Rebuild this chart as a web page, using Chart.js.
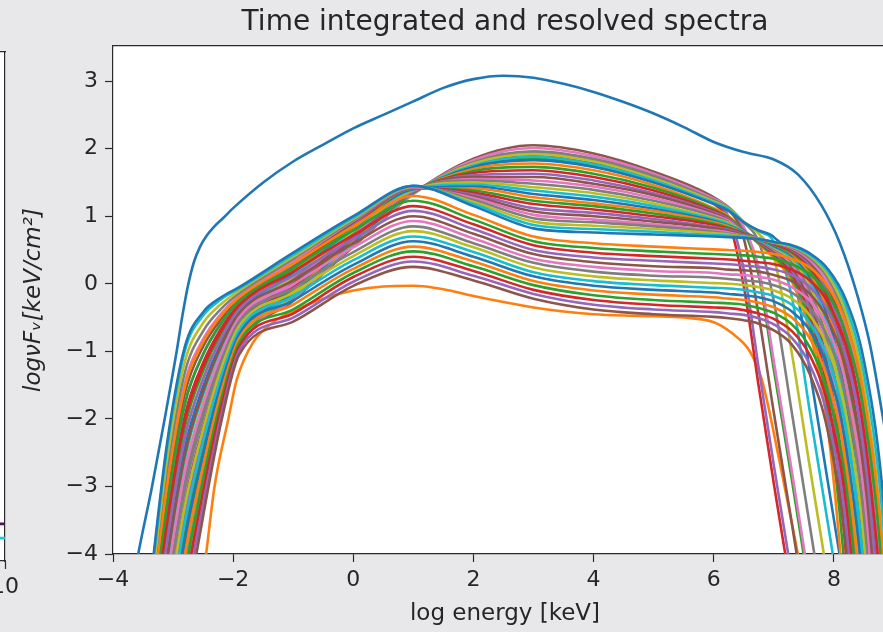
<!DOCTYPE html>
<html>
<head>
<meta charset="utf-8">
<script src="https://cdn.jsdelivr.net/npm/chart.js@4.4.0/dist/chart.umd.min.js"></script>
<style>
  html, body { margin: 0; padding: 0; background: #e8e8eb; overflow: hidden; }
  #wrap { position: relative; width: 883px; height: 632px; overflow: hidden; }
  #main { position: absolute; left: 0; top: 0; }
  #side { position: absolute; left: -400px; top: 0; }
</style>
</head>
<body>
<div id="wrap">
  <canvas id="main" width="920" height="632"></canvas>
  <canvas id="side" width="425" height="632"></canvas>
</div>
<script>
// tick positions
const xTicks = [-4, -2, 0, 2, 4, 6, 8];
const yTicks = [-4, -3, -2, -1, 0, 1, 2, 3];

// time integrated spectrum (log energy, log nuFnu)
const integratedEnergy = [-3.7, -3.58, -3.35, -3.14, -2.94, -2.85, -2.75, -2.65, -2.55, -2.45, -2.3, -2.17, -2.0, -1.5, -1.0, -0.5, 0, 0.5, 1, 1.5, 2, 2.5, 3, 3.5, 4, 4.5, 5, 5.5, 6, 6.5, 7, 7.4, 7.8, 8.1, 8.4, 8.6, 8.8, 9.0, 9.2];
const integratedFlux = [-4.6, -4.0, -3.0, -2.0, -1.0, -0.5, -0.02, 0.33, 0.55, 0.7, 0.86, 0.97, 1.12, 1.5, 1.81, 2.06, 2.3, 2.5, 2.7, 2.9, 3.03, 3.08, 3.05, 2.96, 2.84, 2.69, 2.52, 2.32, 2.1, 1.95, 1.84, 1.62, 1.15, 0.6, -0.2, -0.9, -1.9, -3.0, -4.4];

// first time bin (the faint one)
const firstBinEnergy = [-2.6, -2.45, -2.31, -2.08, -1.94, -1.67, -1.3, -1.0, -0.5, 0, 0.5, 1, 1.5, 2, 2.5, 3, 3.5, 4, 4.5, 5, 5.5, 6, 6.3, 6.6, 6.8, 7.1, 7.4, 7.6];
const firstBinFlux = [-5.0, -4.0, -3.0, -2.0, -1.42, -0.87, -0.55, -0.4, -0.22, -0.1, -0.04, -0.03, -0.08, -0.18, -0.27, -0.35, -0.41, -0.45, -0.47, -0.48, -0.5, -0.57, -0.73, -1.0, -1.42, -2.65, -4.0, -4.9];

// the other time bins, all on one energy grid
const energyGrid = [-3.4, -3.1, -2.8, -2.5, -2.2, -1.9, -1.0, 0, 1, 2, 3, 4, 5, 6, 6.25, 6.5, 6.75, 7.0, 7.3, 7.6, 7.9, 8.2, 8.5, 8.8, 9.1];
const resolvedFlux = [
  [-7.60, -5.77, -4.06, -2.74, -1.62, -0.82, -0.14, 0.62, 1.35, 1.74, 1.85, 1.74, 1.51, 1.19, 1.08, 0.79, 0.12, -1.27, -2.90, -4.59, -6.24, -9, -9, -9, -9],
  [-7.73, -5.92, -4.19, -2.84, -1.68, -0.85, -0.16, 0.61, 1.35, 1.76, 1.90, 1.78, 1.54, 1.18, 0.92, -0.04, -1.53, -2.96, -4.60, -6.28, -9, -9, -9, -9, -9],
  [-7.86, -6.07, -4.33, -2.94, -1.74, -0.89, -0.19, 0.59, 1.34, 1.79, 1.94, 1.82, 1.58, 1.21, 0.99, 0.21, -1.26, -2.69, -4.33, -6.01, -9, -9, -9, -9, -9],
  [-8.19, -6.45, -4.67, -3.20, -1.90, -0.97, -0.25, 0.55, 1.33, 1.85, 2.05, 1.93, 1.66, 1.28, 1.11, 0.67, -0.48, -1.91, -3.55, -5.24, -6.90, -9, -9, -9, -9],
  [-8.06, -6.30, -4.54, -3.10, -1.84, -0.94, -0.23, 0.57, 1.33, 1.83, 2.01, 1.89, 1.63, 1.26, 1.13, 0.84, 0.22, -1.15, -2.78, -4.47, -6.12, -9, -9, -9, -9],
  [-7.93, -6.15, -4.40, -3.00, -1.78, -0.90, -0.20, 0.58, 1.34, 1.80, 1.96, 1.85, 1.60, 1.24, 1.13, 0.91, 0.62, -0.26, -1.91, -3.59, -5.24, -6.90, -9, -9, -9],
  [-7.80, -6.01, -4.27, -2.90, -1.72, -0.87, -0.18, 0.60, 1.34, 1.78, 1.92, 1.81, 1.56, 1.22, 1.11, 0.92, 0.74, 0.39, -1.03, -2.72, -4.37, -6.02, -9, -9, -9],
  [-7.67, -5.86, -4.14, -2.80, -1.66, -0.84, -0.15, 0.61, 1.35, 1.75, 1.88, 1.77, 1.53, 1.20, 1.10, 0.91, 0.78, 0.62, -0.20, -1.90, -3.55, -5.20, -6.85, -9, -9],
  [-7.54, -5.71, -4.00, -2.70, -1.60, -0.81, -0.13, 0.63, 1.35, 1.73, 1.83, 1.73, 1.50, 1.18, 1.08, 0.91, 0.79, 0.69, 0.28, -1.29, -2.94, -4.59, -6.24, -9, -9],
  [-7.39, -5.54, -3.84, -2.58, -1.52, -0.77, -0.10, 0.65, 1.36, 1.70, 1.78, 1.68, 1.46, 1.12, 1.00, 0.78, 0.59, 0.38, 0.03, -0.72, -2.15, -5.00, -9, -9, -9],
  [-7.24, -5.36, -3.68, -2.46, -1.45, -0.73, -0.07, 0.67, 1.36, 1.67, 1.73, 1.63, 1.42, 1.10, 0.98, 0.79, 0.60, 0.41, 0.09, -0.59, -1.89, -4.47, -9, -9, -9],
  [-7.09, -5.19, -3.52, -2.35, -1.38, -0.69, -0.04, 0.69, 1.37, 1.64, 1.68, 1.58, 1.38, 1.08, 0.97, 0.78, 0.62, 0.44, 0.15, -0.47, -1.65, -4.00, -8.70, -9, -9],
  [-6.94, -5.02, -3.36, -2.23, -1.31, -0.65, -0.01, 0.70, 1.37, 1.61, 1.63, 1.53, 1.34, 1.06, 0.96, 0.78, 0.62, 0.46, 0.20, -0.36, -1.44, -3.57, -7.83, -9, -9],
  [-6.78, -4.85, -3.20, -2.11, -1.24, -0.61, 0.02, 0.72, 1.38, 1.58, 1.58, 1.48, 1.31, 1.04, 0.94, 0.78, 0.63, 0.48, 0.25, -0.27, -1.24, -3.18, -7.04, -9, -9],
  [-6.63, -4.67, -3.05, -1.99, -1.16, -0.57, 0.05, 0.74, 1.38, 1.55, 1.53, 1.44, 1.27, 1.02, 0.93, 0.77, 0.65, 0.51, 0.29, -0.18, -1.06, -2.82, -6.32, -9, -9],
  [-6.48, -4.50, -2.89, -1.88, -1.09, -0.53, 0.08, 0.76, 1.39, 1.53, 1.48, 1.39, 1.23, 1.00, 0.91, 0.77, 0.65, 0.52, 0.33, -0.10, -0.90, -2.49, -5.67, -9, -9],
  [-6.33, -4.33, -2.73, -1.76, -1.02, -0.49, 0.11, 0.78, 1.39, 1.50, 1.43, 1.34, 1.19, 0.97, 0.90, 0.77, 0.66, 0.54, 0.36, -0.03, -0.76, -2.21, -5.10, -9, -9],
  [-6.18, -4.16, -2.57, -1.64, -0.95, -0.46, 0.14, 0.80, 1.40, 1.47, 1.38, 1.29, 1.15, 0.95, 0.88, 0.77, 0.65, 0.55, 0.39, 0.04, -0.63, -1.94, -4.57, -9, -9],
  [-6.02, -3.98, -2.41, -1.52, -0.88, -0.42, 0.17, 0.82, 1.40, 1.44, 1.33, 1.24, 1.11, 0.93, 0.86, 0.76, 0.66, 0.56, 0.42, 0.10, -0.50, -1.70, -4.08, -8.85, -9],
  [-5.87, -3.81, -2.25, -1.41, -0.80, -0.38, 0.20, 0.83, 1.41, 1.41, 1.28, 1.19, 1.08, 0.91, 0.85, 0.75, 0.66, 0.58, 0.44, 0.15, -0.39, -1.48, -3.64, -8.00, -9],
  [-5.72, -3.64, -2.10, -1.29, -0.73, -0.34, 0.23, 0.85, 1.41, 1.38, 1.23, 1.15, 1.04, 0.89, 0.83, 0.75, 0.67, 0.58, 0.46, 0.20, -0.30, -1.28, -3.24, -7.19, -9],
  [-5.57, -3.47, -1.94, -1.17, -0.66, -0.30, 0.26, 0.87, 1.42, 1.35, 1.18, 1.10, 1.00, 0.87, 0.81, 0.74, 0.66, 0.59, 0.48, 0.24, -0.21, -1.11, -2.89, -6.47, -9],
  [-5.42, -3.29, -1.77, -1.05, -0.59, -0.26, 0.29, 0.89, 1.42, 1.32, 1.12, 1.05, 0.96, 0.84, 0.80, 0.73, 0.67, 0.60, 0.50, 0.28, -0.13, -0.94, -2.56, -5.81, -9],
  [-5.26, -3.12, -1.61, -0.93, -0.52, -0.22, 0.31, 0.91, 1.43, 1.29, 1.07, 1.00, 0.92, 0.82, 0.78, 0.72, 0.66, 0.60, 0.51, 0.32, -0.05, -0.79, -2.26, -5.21, -9],
  [-5.12, -2.95, -1.46, -0.82, -0.44, -0.18, 0.34, 0.93, 1.43, 1.27, 1.02, 0.95, 0.88, 0.79, 0.76, 0.71, 0.67, 0.61, 0.53, 0.35, 0.01, -0.65, -1.99, -4.67, -9],
  [-4.96, -2.77, -1.30, -0.70, -0.37, -0.14, 0.37, 0.94, 1.44, 1.24, 0.97, 0.91, 0.85, 0.77, 0.74, 0.71, 0.66, 0.61, 0.54, 0.38, 0.08, -0.53, -1.74, -4.17, -9],
  [-4.81, -2.60, -1.14, -0.58, -0.30, -0.10, 0.40, 0.96, 1.44, 1.21, 0.92, 0.86, 0.81, 0.75, 0.73, 0.70, 0.66, 0.61, 0.55, 0.41, 0.13, -0.43, -1.53, -3.74, -8.10],
  [-4.66, -2.43, -0.98, -0.47, -0.23, -0.07, 0.43, 0.98, 1.45, 1.18, 0.87, 0.81, 0.77, 0.72, 0.71, 0.69, 0.66, 0.62, 0.56, 0.43, 0.18, -0.33, -1.33, -3.33, -7.32],
  [-4.60, -2.36, -0.92, -0.42, -0.20, -0.05, 0.46, 1.00, 1.45, 1.15, 0.82, 0.76, 0.73, 0.70, 0.69, 0.68, 0.66, 0.62, 0.57, 0.45, 0.22, -0.24, -1.14, -2.97, -6.62],
  [-5.17, -3.00, -1.51, -0.86, -0.47, -0.20, 0.30, 0.85, 1.30, 1.02, 0.70, 0.60, 0.55, 0.51, 0.50, 0.49, 0.47, 0.44, 0.37, 0.24, -0.04, -0.58, -1.67, -3.83, -8.15],
  [-5.40, -3.28, -1.76, -1.04, -0.58, -0.26, 0.24, 0.79, 1.23, 0.95, 0.63, 0.53, 0.48, 0.44, 0.43, 0.42, 0.40, 0.37, 0.29, 0.14, -0.15, -0.74, -1.92, -4.27, -9],
  [-5.65, -3.55, -2.01, -1.23, -0.70, -0.32, 0.18, 0.72, 1.15, 0.88, 0.57, 0.46, 0.41, 0.37, 0.36, 0.34, 0.32, 0.29, 0.21, 0.05, -0.27, -0.92, -2.19, -4.75, -9],
  [-5.88, -3.82, -2.26, -1.41, -0.81, -0.38, 0.12, 0.66, 1.08, 0.81, 0.50, 0.39, 0.34, 0.30, 0.29, 0.27, 0.25, 0.21, 0.13, -0.05, -0.40, -1.09, -2.48, -5.25, -9],
  [-6.13, -4.10, -2.52, -1.60, -0.92, -0.44, 0.05, 0.60, 1.00, 0.74, 0.44, 0.32, 0.26, 0.23, 0.21, 0.20, 0.18, 0.13, 0.04, -0.15, -0.53, -1.28, -2.79, -5.80, -9],
  [-6.36, -4.37, -2.76, -1.79, -1.04, -0.50, -0.01, 0.54, 0.93, 0.67, 0.37, 0.25, 0.19, 0.16, 0.14, 0.13, 0.10, 0.06, -0.05, -0.25, -0.66, -1.48, -3.12, -6.38, -9],
  [-6.61, -4.64, -3.02, -1.97, -1.15, -0.56, -0.07, 0.47, 0.85, 0.60, 0.31, 0.18, 0.12, 0.09, 0.07, 0.05, 0.03, -0.02, -0.13, -0.36, -0.80, -1.69, -3.47, -7.01, -9],
  [-6.84, -4.91, -3.27, -2.16, -1.26, -0.63, -0.13, 0.41, 0.78, 0.54, 0.24, 0.11, 0.05, 0.01, 0.00, -0.02, -0.05, -0.10, -0.22, -0.47, -0.95, -1.92, -3.85, -7.70, -9],
  [-7.08, -5.18, -3.52, -2.34, -1.38, -0.69, -0.19, 0.35, 0.70, 0.47, 0.17, 0.04, -0.02, -0.06, -0.07, -0.09, -0.13, -0.18, -0.31, -0.58, -1.10, -2.15, -4.25, -8.45, -9],
  [-7.32, -5.46, -3.77, -2.53, -1.49, -0.75, -0.25, 0.28, 0.63, 0.40, 0.11, -0.03, -0.09, -0.13, -0.15, -0.17, -0.20, -0.26, -0.41, -0.69, -1.26, -2.40, -4.67, -9, -9],
  [-7.56, -5.73, -4.02, -2.71, -1.60, -0.81, -0.31, 0.22, 0.55, 0.33, 0.04, -0.10, -0.16, -0.20, -0.22, -0.24, -0.28, -0.35, -0.50, -0.81, -1.43, -2.67, -5.14, -9, -9],
  [-7.80, -6.01, -4.27, -2.90, -1.72, -0.87, -0.38, 0.16, 0.48, 0.26, -0.02, -0.17, -0.24, -0.28, -0.29, -0.31, -0.36, -0.43, -0.60, -0.94, -1.61, -2.95, -5.63, -9, -9],
  [-8.04, -6.28, -4.52, -3.08, -1.83, -0.93, -0.44, 0.10, 0.40, 0.19, -0.09, -0.24, -0.31, -0.35, -0.36, -0.39, -0.44, -0.52, -0.70, -1.06, -1.79, -3.25, -6.16, -9, -9],
  [-8.28, -6.55, -4.77, -3.27, -1.95, -0.99, -0.50, 0.03, 0.33, 0.12, -0.15, -0.31, -0.38, -0.42, -0.44, -0.46, -0.51, -0.60, -0.80, -1.20, -1.99, -3.57, -6.73, -9, -9],
  [-8.50, -6.80, -5.00, -3.44, -2.05, -1.05, -0.56, -0.03, 0.25, 0.05, -0.22, -0.38, -0.45, -0.49, -0.51, -0.54, -0.59, -0.69, -0.90, -1.34, -2.19, -3.91, -7.34, -9, -9]
];

// neighbouring panel, only its right edge is in the picture
const sideTicks = [0, 2, 4, 6, 8, 10];
const sideEnergy = [9, 10];
const sideUpper = [0.073, 0.073];
const sideLower = [0.045, 0.045];

const tab10 = ['#1f77b4', '#ff7f0e', '#2ca02c', '#d62728', '#9467bd',
               '#8c564b', '#e377c2', '#7f7f7f', '#bcbd22', '#17becf'];
const font = 'DejaVu Sans';
const textColor = '#262626';
const axisColor = '#2b2b2b';

Chart.defaults.font.family = font;

function fmt(v) {
  return v < 0 ? '\u2212' + Math.abs(v) : String(v);
}

function makeLine(xs, ys, color, idx) {
  return {
    data: xs.map((x, j) => ({ x: x, y: ys[j] })),
    borderColor: color,
    borderWidth: 2.6,
    pointRadius: 0,
    fill: false,
    cubicInterpolationMode: 'monotone',
    order: 100 - idx, // later spectra drawn on top, like matplotlib
  };
}

const plotBackground = {
  id: 'plotBackground',
  beforeDraw(chart) {
    const { ctx, chartArea: a } = chart;
    ctx.save();
    ctx.fillStyle = '#ffffff';
    ctx.fillRect(a.left, a.top, a.right - a.left, a.bottom - a.top);
    ctx.restore();
  },
};

const datasets = [];
datasets.push(makeLine(integratedEnergy, integratedFlux, tab10[0], 0));
datasets.push(makeLine(firstBinEnergy, firstBinFlux, tab10[1], 1));
resolvedFlux.forEach((ys, k) => {
  datasets.push(makeLine(energyGrid, ys, tab10[(k + 2) % 10], k + 2));
});

const tickGrid = {
  drawOnChartArea: false,
  drawTicks: true,
  tickLength: 8,
  tickWidth: 1.2,
  tickColor: axisColor,
  color: axisColor,
};

new Chart(document.getElementById('main'), {
  type: 'line',
  data: { datasets: datasets },
  options: {
    responsive: false,
    animation: false,
    layout: { padding: { left: 0, right: 23, top: 0, bottom: 0 } },
    plugins: { legend: { display: false }, tooltip: { enabled: false } },
    scales: {
      x: {
        type: 'linear',
        position: 'bottom',
        min: -4,
        max: 9.05,
        afterBuildTicks: (s) => { s.ticks = xTicks.map((v) => ({ value: v })); },
        ticks: { callback: fmt, color: textColor, font: { size: 22 }, padding: 5, maxRotation: 0 },
        grid: tickGrid,
        border: { display: true, color: axisColor, width: 1.2 },
        title: {
          display: true,
          text: 'log energy [keV]',
          color: textColor,
          font: { size: 23 },
          padding: { top: 0, bottom: 4 },
        },
        afterFit: (s) => { s.height = 78; },
      },
      y: {
        type: 'linear',
        position: 'left',
        min: -4,
        max: 3.52,
        afterBuildTicks: (s) => { s.ticks = yTicks.map((v) => ({ value: v })); },
        ticks: { callback: fmt, color: textColor, font: { size: 22 }, padding: 7 },
        grid: tickGrid,
        border: { display: true, color: axisColor, width: 1.2 },
        title: {
          display: true,
          text: 'log\u03bdF\u1d65[keV/cm\u00b2]',
          color: textColor,
          font: { size: 23, style: 'italic' },
          padding: { top: 20, bottom: 0 },
        },
        afterFit: (s) => { s.width = 113; },
      },
      top: {
        type: 'linear',
        position: 'top',
        min: -4,
        max: 9.05,
        ticks: { display: false },
        grid: { drawOnChartArea: false, drawTicks: false, color: axisColor },
        border: { display: true, color: axisColor, width: 1.2 },
        title: {
          display: true,
          text: 'Time integrated and resolved spectra',
          color: textColor,
          font: { size: 28 },
          padding: { top: 6, bottom: 0 },
        },
        afterFit: (s) => { s.height = 46; },
      },
    },
  },
  plugins: [plotBackground],
});

new Chart(document.getElementById('side'), {
  type: 'line',
  data: {
    datasets: [
      makeLine(sideEnergy, sideUpper, '#4b1150', 0),
      makeLine(sideEnergy, sideLower, '#22c5d4', 1),
    ],
  },
  options: {
    responsive: false,
    animation: false,
    layout: { padding: { left: 0, right: 20, top: 0, bottom: 0 } },
    plugins: { legend: { display: false }, tooltip: { enabled: false } },
    scales: {
      x: {
        type: 'linear',
        position: 'bottom',
        min: 0,
        max: 10,
        afterBuildTicks: (s) => { s.ticks = sideTicks.map((v) => ({ value: v })); },
        ticks: { callback: fmt, color: textColor, font: { size: 22 }, padding: 5, maxRotation: 0 },
        grid: tickGrid,
        border: { display: true, color: axisColor, width: 1.2 },
        afterFit: (s) => { s.height = 71; },
      },
      y: { type: 'linear', min: 0, max: 1, display: false },
      top: {
        type: 'linear',
        position: 'top',
        min: 0,
        max: 10,
        ticks: { display: false },
        grid: { drawOnChartArea: false, drawTicks: false, color: axisColor },
        border: { display: true, color: axisColor, width: 1.2 },
        afterFit: (s) => { s.height = 52; },
      },
      right: {
        type: 'linear',
        position: 'right',
        min: 0,
        max: 1,
        ticks: { display: false },
        grid: { drawOnChartArea: false, drawTicks: false, color: axisColor },
        border: { display: true, color: axisColor, width: 1.2 },
        afterFit: (s) => { s.width = 0; },
      },
    },
  },
  plugins: [plotBackground],
});
</script>
</body>
</html>
